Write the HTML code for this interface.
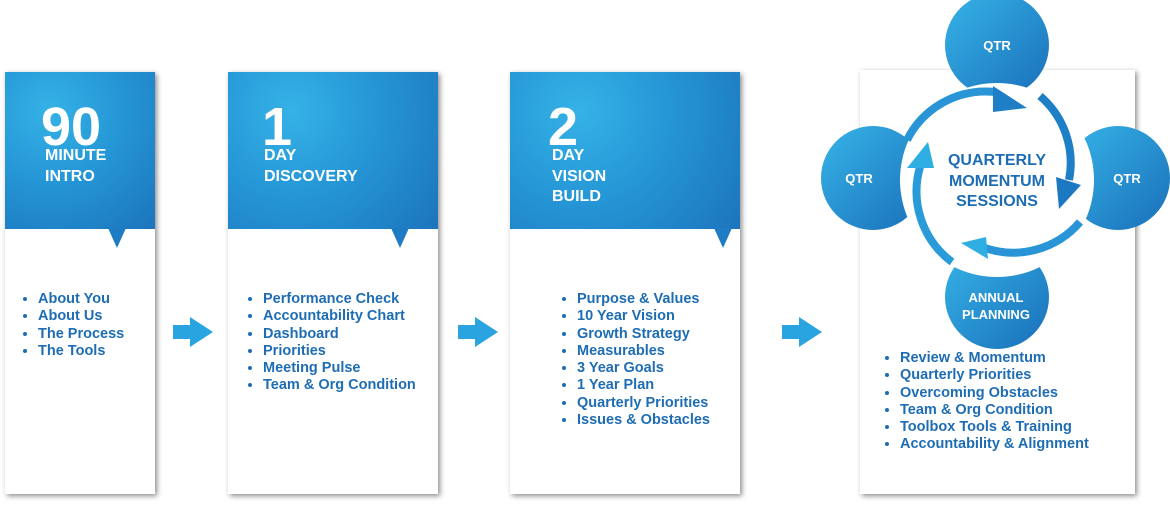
<!DOCTYPE html>
<html><head><style>
body{margin:0;width:1170px;height:505px;background:#fff;position:relative;font-family:"Liberation Sans",sans-serif;overflow:hidden}
.card{position:absolute;background:#fff;box-shadow:2px 2px 5px rgba(0,0,0,.45)}
.hd{position:absolute;left:0;top:0;right:0;height:157px;background:radial-gradient(circle at 30% 25%,#35b2e6 0%,#2596d6 45%,#1c74bd 100%)}
.ptr{position:absolute;top:156px;width:0;height:0;border-left:9px solid transparent;border-right:9px solid transparent;border-top:20px solid #1d7cc3}
.num{position:absolute;color:#fff;font-weight:bold;font-size:54px;line-height:54px}
.lbl{position:absolute;color:#fff;font-weight:bold;font-size:16px;line-height:20.5px}
ul{position:absolute;margin:0;padding:0 0 0 18px;color:#1e6db4;font-size:14.5px;line-height:17.3px;font-weight:bold}
.arr{position:absolute}
</style></head><body>
<div class="card" style="left:5px;top:72px;width:150px;height:422px">
<div class="hd"></div><div class="ptr" style="left:103px"></div>
<div class="num" style="left:36px;top:28px">90</div>
<div class="lbl" style="left:40px;top:74px">MINUTE<br>INTRO</div>
<ul style="left:15px;top:219px"><li>About You</li><li>About Us</li><li>The Process</li><li>The Tools</li></ul>
</div>
<div class="card" style="left:228px;top:72px;width:210px;height:422px">
<div class="hd"></div><div class="ptr" style="left:163px"></div>
<div class="num" style="left:34px;top:28px">1</div>
<div class="lbl" style="left:36px;top:74px">DAY<br>DISCOVERY</div>
<ul style="left:17px;top:219px"><li>Performance Check</li><li>Accountability Chart</li><li>Dashboard</li><li>Priorities</li><li>Meeting Pulse</li><li>Team &amp; Org Condition</li></ul>
</div>
<div class="card" style="left:510px;top:72px;width:230px;height:422px">
<div class="hd"></div><div class="ptr" style="left:204px"></div>
<div class="num" style="left:38px;top:28px">2</div>
<div class="lbl" style="left:42px;top:74px">DAY<br>VISION<br>BUILD</div>
<ul style="left:49px;top:219px"><li>Purpose &amp; Values</li><li>10 Year Vision</li><li>Growth Strategy</li><li>Measurables</li><li>3 Year Goals</li><li>1 Year Plan</li><li>Quarterly Priorities</li><li>Issues &amp; Obstacles</li></ul>
</div>
<div class="card" style="left:860px;top:70px;width:275px;height:424px">
<ul style="left:22px;top:280px"><li>Review &amp; Momentum</li><li>Quarterly Priorities</li><li>Overcoming Obstacles</li><li>Team &amp; Org Condition</li><li>Toolbox Tools &amp; Training</li><li>Accountability &amp; Alignment</li></ul>
</div>
<svg class="arr" style="left:0;top:0" width="1170" height="505">
<defs><linearGradient id="g" x1="0" y1="0" x2="1" y2="1"><stop offset="0" stop-color="#36b4e7"/><stop offset="1" stop-color="#1a6fba"/></linearGradient></defs>
<g fill="#2aa4e0">
<polygon points="173,325 190,325 190,317 213,332 190,347 190,339 173,339"/>
<polygon points="458,325 475,325 475,317 498,332 475,347 475,339 458,339"/>
<polygon points="782,325 799,325 799,317 822,332 799,347 799,339 782,339"/>
</g>
<circle cx="997" cy="45" r="52" fill="url(#g)"/>
<circle cx="873" cy="178" r="52" fill="url(#g)"/>
<circle cx="1118" cy="178" r="52" fill="url(#g)"/>
<circle cx="997" cy="297" r="52" fill="url(#g)"/>
<circle cx="997" cy="180" r="97" fill="#fff"/>
<g fill="none" stroke-width="8">
<path d="M907,140 A88,88 0 0 1 995,92" stroke="#2a95d6"/>
<path d="M1040,96 A88,88 0 0 1 1069,180" stroke="#1f7fc6"/>
<path d="M1080,222 A88,88 0 0 1 985,248" stroke="#2a95d6"/>
<path d="M952,262 A88,88 0 0 1 920,167" stroke="#2a9bd9"/>
</g>
<polygon points="993,86 1027,108 993,112" fill="#1f7fc6"/>
<polygon points="1056,177 1081,185 1059,209" fill="#1d78c2"/>
<polygon points="986,237 961,243 988,259" fill="#2faee4"/>
<polygon points="907,168 928,142 934,168" fill="#2faee4"/>
<g fill="#fff" font-weight="bold" font-size="13" text-anchor="middle">
<text x="997" y="50">QTR</text><text x="859" y="183">QTR</text><text x="1127" y="183">QTR</text>
<text x="996" y="302">ANNUAL</text><text x="996" y="319">PLANNING</text>
</g>
<g fill="#1e6db4" font-weight="bold" font-size="16" text-anchor="middle">
<text x="997" y="165">QUARTERLY</text><text x="997" y="186">MOMENTUM</text><text x="997" y="206">SESSIONS</text>
</g>
</svg>
</body></html>
